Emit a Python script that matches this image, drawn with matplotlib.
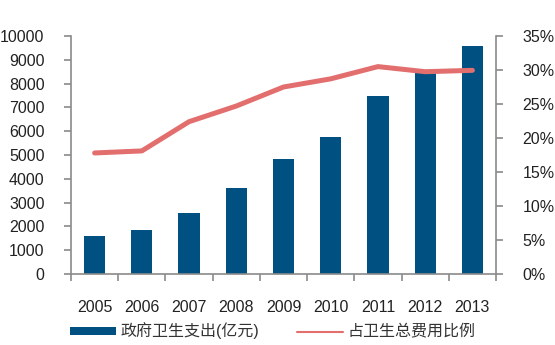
import matplotlib
matplotlib.use("Agg")
import matplotlib.pyplot as plt
from matplotlib.ticker import FuncFormatter, FixedLocator
import numpy as np

years = ["2005", "2006", "2007", "2008", "2009", "2010", "2011", "2012", "2013"]
gov_spending = [1600, 1840, 2580, 3630, 4830, 5760, 7470, 8500, 9580]
share_pct = [17.8, 18.1, 22.4, 24.7, 27.5, 28.7, 30.5, 29.75, 29.95]
left_ticks = list(range(0, 10001, 1000))
right_ticks = list(range(0, 36, 5))
bar_label = "政府卫生支出(亿元)"
line_label = "占卫生总费用比例"

plt.rcParams['font.family'] = ['Liberation Sans', 'Noto Sans CJK SC', 'DejaVu Sans']

bar_color = "#005082"
line_color = "#E26E6E"
spine_color = "#8a8a8a"
text_color = "#222222"

fig = plt.figure(figsize=(5.55, 3.45), dpi=100)
ax = fig.add_axes([71/555, 1-274/345, (496-71)/555, (274-36)/345])
x = np.arange(len(years))
bars = ax.bar(x, gov_spending, width=0.45, color=bar_color, label=bar_label, zorder=2)
ax.set_xlim(-0.5, len(years)-0.5)
ax.set_ylim(0, 10000)
ax.set_yticks(left_ticks)

ax2 = ax.twinx()
line, = ax2.plot(x, share_pct, color=line_color, lw=3.6, solid_capstyle='round', label=line_label, zorder=3)
ax2.set_ylim(0, 35)
ax2.set_yticks(right_ticks)
ax2.yaxis.set_major_formatter(FuncFormatter(lambda v, p: f"{int(v)}%"))

for a in (ax, ax2):
    for s in a.spines.values():
        s.set_color(spine_color)
        s.set_linewidth(1.2)
    a.spines['top'].set_visible(False)
ax.spines['right'].set_visible(False)
ax2.spines['left'].set_visible(False)
ax2.spines['bottom'].set_visible(False)

# bottom ticks at category boundaries, labels at categories
ax.xaxis.set_major_locator(FixedLocator(np.arange(-0.5, len(years), 1.0)))
ax.set_xticklabels([])
ax.set_xticks(x, minor=True)
ax.set_xticklabels(years, minor=True)
ax.tick_params(axis='x', which='major', direction='out', length=5, width=1.2, color=spine_color)
ax.tick_params(axis='x', which='minor', length=0, pad=19, labelsize=11.5, labelcolor=text_color)
ax.tick_params(axis='y', direction='out', length=5, width=1.2, color=spine_color, pad=14,
               labelsize=11.5, labelcolor=text_color)
ax2.tick_params(axis='y', direction='out', length=5, width=1.2, color=spine_color, pad=14,
                labelsize=11.5, labelcolor=text_color)

ax.set_zorder(1)
ax2.set_zorder(2)
ax2.patch.set_visible(False)

leg = fig.legend([bars, line], [bar_label, line_label], ncol=2, loc='center left',
                 bbox_to_anchor=(70/555, 1-331/345), frameon=False, fontsize=11.5,
                 handlelength=2.85, handleheight=0.4, handletextpad=0.3,
                 columnspacing=2.4, borderpad=0, borderaxespad=0)
for t in leg.get_texts():
    t.set_color("#333333")
for h in leg.legend_handles:
    if isinstance(h, matplotlib.lines.Line2D):
        h.set_linewidth(1.5)

fig.savefig("out.png", dpi=100)
